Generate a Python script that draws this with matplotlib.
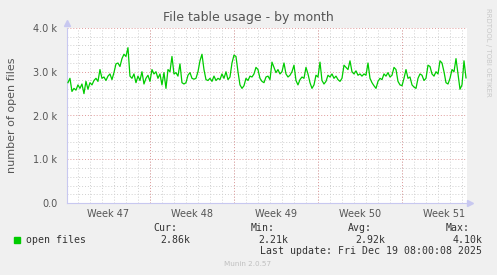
import numpy as np
import matplotlib
matplotlib.use("Agg")
import matplotlib.pyplot as plt
from matplotlib.ticker import FixedLocator, FuncFormatter

# ---- data (open files, in thousands), one sample every 4 hours ----
sample_hours = 4
open_files_k = [
    2.75, 2.85, 2.55, 2.62, 2.58, 2.70, 2.62, 2.72, 2.50, 2.78,
    2.60, 2.75, 2.70, 2.80, 2.85, 2.78, 3.05, 2.85, 2.88, 2.80,
    2.90, 2.95, 2.82, 2.98, 3.18, 3.20, 3.12, 3.30, 3.40, 3.35,
    3.55, 2.90, 2.85, 2.95, 2.75, 2.90, 2.80, 3.00, 2.72, 2.85,
    2.92, 2.78, 3.05, 2.95, 3.00, 2.85, 2.95, 2.70, 2.98, 2.62,
    3.05, 3.00, 3.35, 2.95, 2.98, 2.90, 3.18, 2.75, 2.72, 2.75,
    2.92, 2.98, 2.85, 2.83, 2.85, 3.00, 3.25, 3.40, 3.05, 2.82,
    2.80, 2.85, 2.78, 2.90, 2.80, 2.85, 2.82, 2.95, 2.85, 3.00,
    2.82, 2.88, 3.20, 3.38, 3.35, 3.00, 2.70, 2.62, 2.68, 2.85,
    2.80, 2.90, 2.88, 2.95, 3.10, 3.05, 2.85, 2.78, 2.75, 2.88,
    2.90, 2.82, 3.22, 3.10, 2.98, 3.05, 2.95, 3.00, 3.20, 2.95,
    2.88, 2.92, 3.00, 3.15, 2.80, 2.70, 2.82, 2.88, 2.85, 3.10,
    2.95, 2.75, 2.62, 2.70, 2.92, 2.88, 3.22, 2.80, 2.72, 2.78,
    2.92, 2.88, 2.95, 2.85, 2.90, 2.82, 2.78, 2.85, 3.15, 3.10,
    3.05, 3.25, 3.00, 2.95, 3.02, 2.92, 2.95, 2.90, 2.95, 2.92,
    3.20, 2.85, 2.75, 2.68, 2.62, 2.78, 2.85, 2.82, 2.95, 2.90,
    2.98, 2.88, 2.92, 3.10, 3.05, 2.78, 2.70, 2.68, 2.85, 3.05,
    2.85, 2.88, 2.70, 2.65, 2.62, 2.85, 2.95, 2.92, 2.80, 2.85,
    3.15, 3.12, 2.95, 2.90, 3.00, 2.95, 3.25, 3.20, 3.00, 2.75,
    2.72, 2.85, 3.05, 3.00, 3.30, 2.95, 2.60, 2.70, 3.25, 2.86,
]
week_labels = ["Week 47", "Week 48", "Week 49", "Week 50", "Week 51"]
week_starts_days = [-0.083, 6.917, 13.917, 20.917, 27.917]
span_days = 33.33
y_max = 4000
legend_name = "open files"
stat_names = ["Cur:", "Min:", "Avg:", "Max:"]
stat_values = ["2.86k", "2.21k", "2.92k", "4.10k"]
title = "File table usage - by month"
ylabel = "number of open files"
last_update = "Last update: Fri Dec 19 08:00:08 2025"
footer = "Munin 2.0.57"
side_text = "RRDTOOL / TOBI OETIKER"

# ---- figure ----
W, H = 497, 275
DPI = 100
bg = "#F0F0F0"
txt = "#555555"
fig = plt.figure(figsize=(W / DPI, H / DPI), dpi=DPI, facecolor=bg)
ax = fig.add_axes([67 / W, (H - 203) / H, 400 / W, 175 / H])
ax.set_facecolor("white")

values = np.array(open_files_k) * 1000
t_days = np.arange(len(values)) * sample_hours / 24.0 + 0.08
ax.plot(t_days, values, color="#00CC00", lw=0.9, zorder=3)

ax.set_xlim(0, span_days)
ax.set_ylim(0, y_max)

# grids
minor_x = np.arange(week_starts_days[1] - 6, span_days, 1.0)
for xv in minor_x:
    ax.axvline(xv, color="#D0D0D0", lw=0.7, ls=(0, (1, 2)), zorder=1)
for xv in week_starts_days[1:]:
    ax.axvline(xv, color="#E09A9A", lw=0.7, ls=(0, (1, 2)), zorder=1.5)
for yv in np.arange(200, y_max + 1, 200):
    if yv % 1000 == 0:
        ax.axhline(yv, color="#E09A9A", lw=0.7, ls=(0, (1, 2)), zorder=1.5)
    else:
        ax.axhline(yv, color="#D0D0D0", lw=0.7, ls=(0, (1, 2)), zorder=1)

for s in ["top", "right"]:
    ax.spines[s].set_visible(False)
for s in ["left", "bottom"]:
    ax.spines[s].set_color("#C8C8F0")
    ax.spines[s].set_linewidth(0.8)
# arrows
ax.plot([0], [y_max * 1.03], marker="^", ms=4, color="#C8C8F0", clip_on=False, zorder=4)
ax.plot([span_days * 1.008], [0], marker=">", ms=4, color="#C8C8F0", clip_on=False, zorder=4)

# ticks
ax.yaxis.set_major_locator(FixedLocator(np.arange(0, y_max + 1, 1000)))
ax.yaxis.set_major_formatter(FuncFormatter(lambda v, p: "0.0" if v == 0 else f"{v/1000:.1f} k"))
centers = [ws + 3.5 for ws in week_starts_days]
ax.xaxis.set_major_locator(FixedLocator(centers))
ax.set_xticklabels(week_labels)
ax.tick_params(axis="both", length=0, labelsize=7, labelcolor=txt)
ax.tick_params(axis="y", pad=7)
ax.tick_params(axis="x", pad=4)

fig.text(248 / W, 1 - 18 / H, title, ha="center", va="center",
         fontsize=9, color=txt)
fig.text(12 / W, 1 - 115 / H, ylabel, ha="center", va="center", rotation=90,
         fontsize=8, color=txt)
fig.text(488 / W, 1 - 8 / H, side_text, ha="center", va="top", rotation=270,
         fontsize=5, color="#C8C8C8")

# legend
mono = "DejaVu Sans Mono"
fig.patches.append(plt.Rectangle((14 / W, 1 - 243 / H), 6 / W, 6 / H,
                                 transform=fig.transFigure, color="#00CC00"))
fig.text(26 / W, 1 - 240 / H, legend_name, ha="left", va="center",
         fontsize=7.1, family=mono, color="#333333")
stat_right = [177, 275, 372, 470]
val_right = [190, 288, 385, 483]
for name, val, sr, vr in zip(stat_names, stat_values, stat_right, val_right):
    fig.text(sr / W, 1 - 228 / H, name, ha="right", va="center",
             fontsize=7.1, family=mono, color="#333333")
    fig.text(vr / W, 1 - 240 / H, val, ha="right", va="center",
             fontsize=7.1, family=mono, color="#333333")
fig.text(482 / W, 1 - 251 / H, last_update, ha="right", va="center",
         fontsize=7.1, family=mono, color="#333333")
fig.text(248 / W, 1 - 264 / H, footer, ha="center", va="center",
         fontsize=5.2, color="#C0C0C0")

fig.savefig("out.png", dpi=DPI, facecolor=bg)
